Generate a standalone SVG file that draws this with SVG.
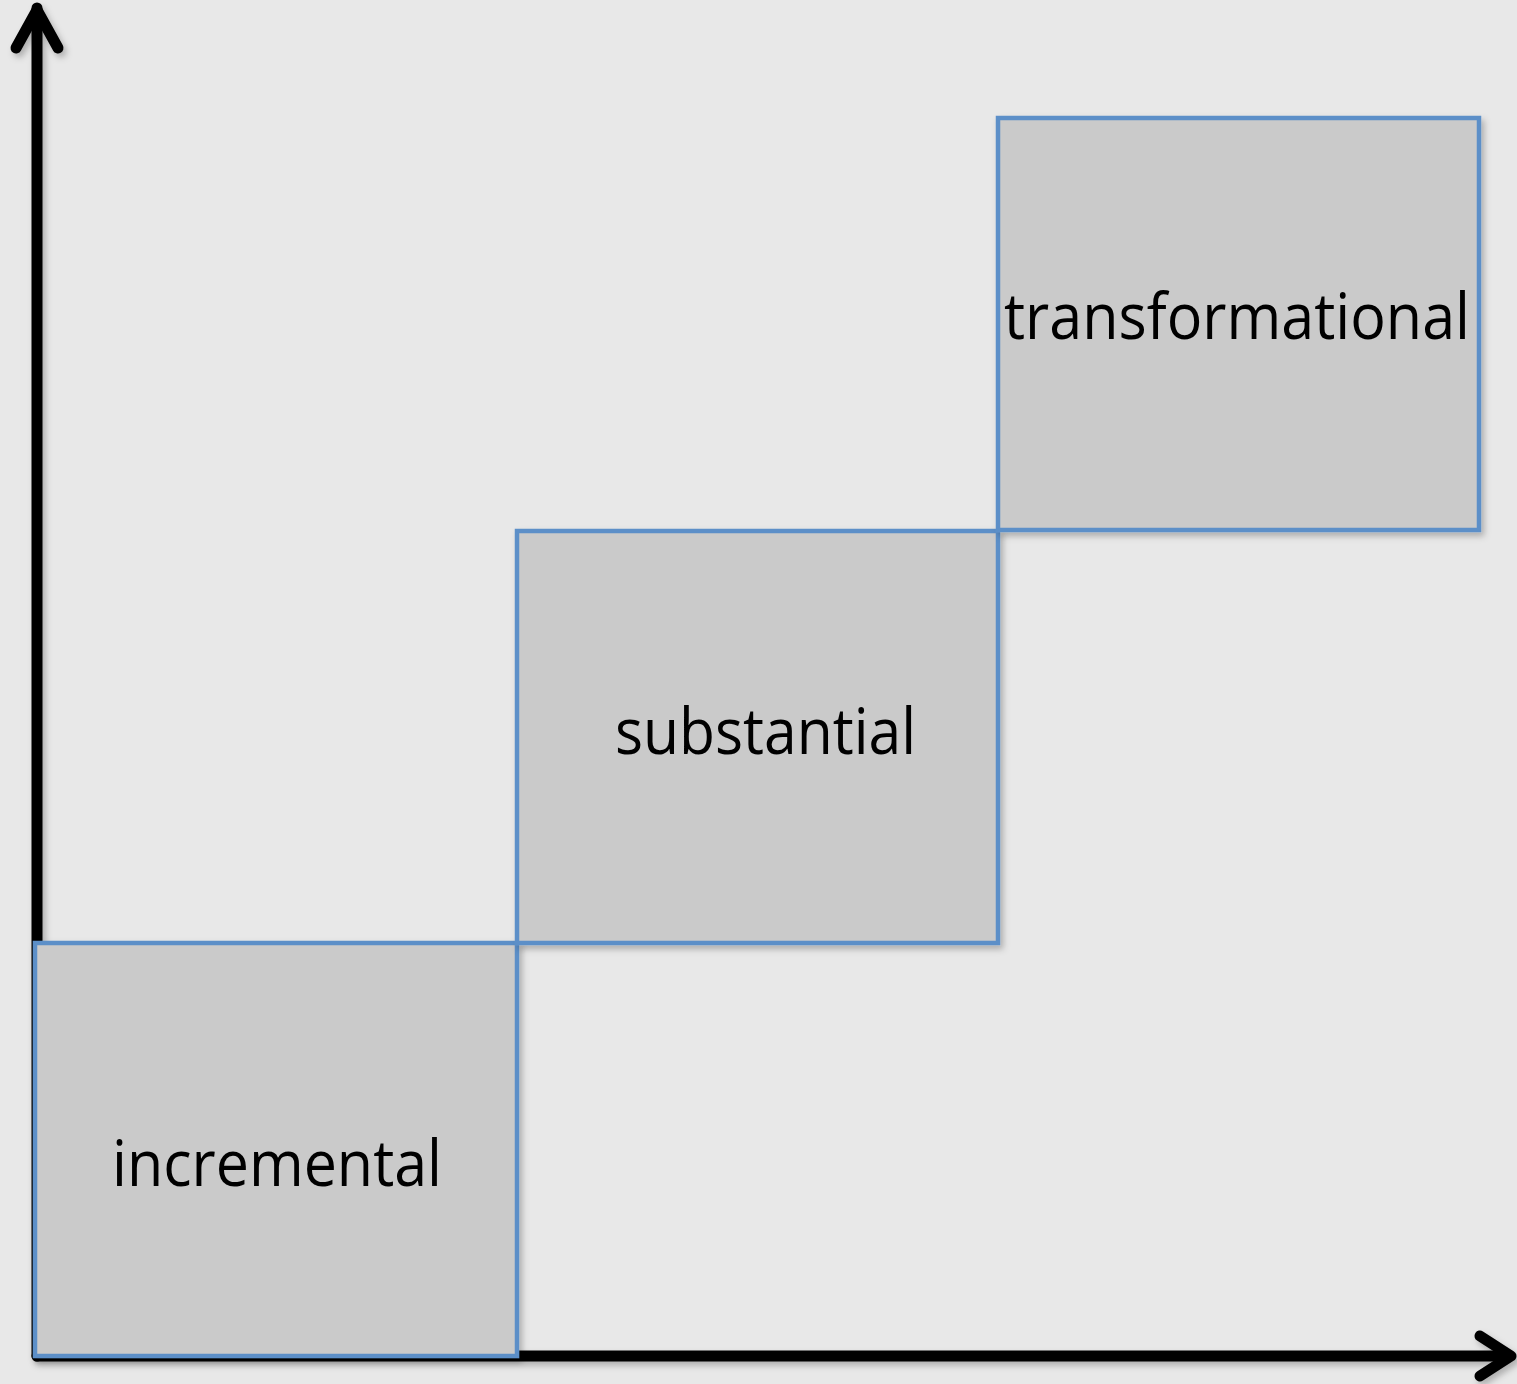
<svg xmlns="http://www.w3.org/2000/svg" width="1517" height="1384" viewBox="0 0 1517 1384">
<defs>
<filter id="sh" x="-5%" y="-5%" width="115%" height="115%">
<feDropShadow dx="3" dy="4" stdDeviation="3" flood-color="#000" flood-opacity="0.25"/>
</filter>
</defs>
<style>
.box{fill:#cacaca;stroke:#5b8fc8;stroke-width:4.5}
.axis{fill:none;stroke:#000;stroke-width:11;stroke-linecap:round;stroke-linejoin:round}
.lbl{font-family:"Open Sans","Liberation Sans",sans-serif;font-size:64px;fill:#000}
</style>
<rect width="1517" height="1384" fill="#e8e8e8"/>
<g id="connectors" filter="url(#sh)">
<path class="axis" d="M37 1356 V8"/>
<path class="axis" d="M16 48 L37 10 L58 48"/>
<path class="axis" d="M37 1356 H1508"/>
<path class="axis" d="M1480 1336 L1511 1356 L1480 1376"/>
</g>
<g id="incremental" filter="url(#sh)">
<rect class="box" x="35" y="943" width="482" height="413"/>
<text class="lbl" x="112" y="1186" textLength="330" lengthAdjust="spacingAndGlyphs">incremental</text>
</g>
<g id="substantial" filter="url(#sh)">
<rect class="box" x="517" y="531" width="481" height="412"/>
<text class="lbl" x="615" y="754" textLength="301" lengthAdjust="spacingAndGlyphs">substantial</text>
</g>
<g id="transformational" filter="url(#sh)">
<rect class="box" x="998" y="118" width="481" height="412"/>
<text class="lbl" x="1004" y="339" textLength="466" lengthAdjust="spacingAndGlyphs">transformational</text>
</g>
</svg>
